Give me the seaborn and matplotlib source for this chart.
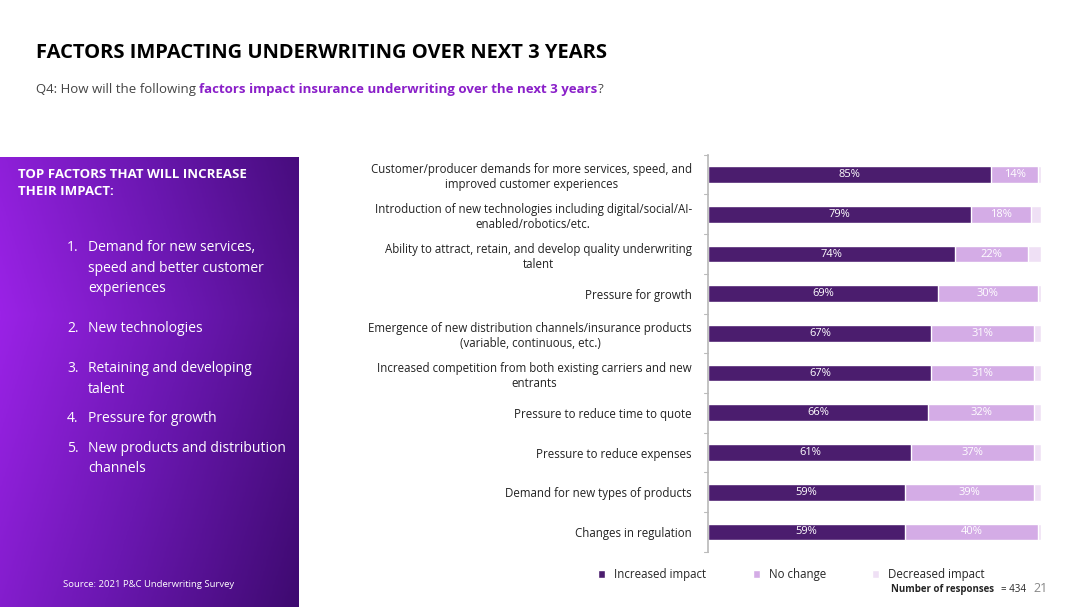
import numpy as np
import pandas as pd
import seaborn as sns
import matplotlib.pyplot as plt
from matplotlib.colors import LinearSegmentedColormap

sns.set_theme(style="white")
plt.rcParams['font.family'] = ['Open Sans', 'DejaVu Sans']

factors = [
    "Customer/producer demands for more services, speed, and\nimproved customer experiences",
    "Introduction of new technologies including digital/social/AI-\nenabled/robotics/etc.",
    "Ability to attract, retain, and develop quality underwriting\ntalent",
    "Pressure for growth",
    "Emergence of new distribution channels/insurance products\n(variable, continuous, etc.)",
    "Increased competition from both existing carriers and new\nentrants",
    "Pressure to reduce time to quote",
    "Pressure to reduce expenses",
    "Demand for new types of products",
    "Changes in regulation",
]
increased = [85, 79, 74, 69, 67, 67, 66, 61, 59, 59]
no_change = [14, 18, 22, 30, 31, 31, 32, 37, 39, 40]
decreased = [1, 3, 4, 1, 2, 2, 2, 2, 2, 1]
series = ["Increased impact", "No change", "Decreased impact"]
colors = ["#4d0f7c", "#d8a2f0", "#f1ddf8"]

df = pd.DataFrame({"factor": factors, "inc": increased, "nc": no_change, "dec": decreased})

fig = plt.figure(figsize=(10.8, 6.07), dpi=100)

# title and question
fig.text(0.033, 0.905, "FACTORS IMPACTING UNDERWRITING OVER NEXT 3 YEARS", fontsize=14.5,
         fontweight="bold", color="black")
parts = [("Q4: How will the following ", "#444444", "normal"),
         ("factors impact insurance underwriting over the next 3 years", "#8a1fc9", "bold"),
         ("?", "#444444", "normal")]
fig.canvas.draw()
r = fig.canvas.get_renderer()
x = 0.033
for s, c, w in parts:
    t = fig.text(x, 0.846, s, fontsize=9.5, color=c, fontweight=w)
    x += t.get_window_extent(r).width / fig.bbox.width

# gradient side panel
pax = fig.add_axes([0, 0, 0.276, 0.741])
cmap = LinearSegmentedColormap.from_list("p", ["#9a22e6", "#6a17b0", "#3e0a70"])
yy, xx = np.mgrid[0:1:200j, 0:1:200j]
grad = 0.75 * xx + 0.35 * np.abs(yy - 0.65)
pax.imshow(grad, cmap=cmap, aspect="auto", extent=[0, 1, 0, 1], origin="lower")
pax.axis("off")
pax.text(0.06, 0.975, "TOP FACTORS THAT WILL INCREASE\nTHEIR IMPACT:", color="white", fontsize=9.5,
         fontweight="bold", va="top", linespacing=1.4)
items = [("1.", "Demand for new services,\nspeed and better customer\nexperiences", 0.815),
         ("2.", "New technologies", 0.635),
         ("3.", "Retaining and developing\ntalent", 0.546),
         ("4.", "Pressure for growth", 0.435),
         ("5.", "New products and distribution\nchannels", 0.37)]
for n, t, y in items:
    pax.text(0.225, y, n, color="white", fontsize=10, va="top")
    pax.text(0.295, y, t, color="white", fontsize=10, va="top", linespacing=1.5)
pax.text(0.5, 0.045, "Source: 2021 P&C Underwriting Survey", color="white", fontsize=6.8, ha="center")

# bar chart
ax = fig.add_axes([0.656, 0.091, 0.308, 0.654])
sns.barplot(data=df, y="factor", x=[i + n + d for i, n, d in zip(increased, no_change, decreased)],
            color=colors[2], width=0.42, ax=ax, label=series[2])
sns.barplot(data=df, y="factor", x=[i + n for i, n in zip(increased, no_change)],
            color=colors[1], width=0.42, ax=ax, label=series[1])
sns.barplot(data=df, y="factor", x="inc", color=colors[0], width=0.42, ax=ax, label=series[0])
for k in range(len(factors)):
    ax.text(increased[k] / 2, k, f"{increased[k]}%", color="white", fontsize=8, ha="center", va="center")
    ax.text(increased[k] + no_change[k] / 2, k, f"{no_change[k]}%", color="white", fontsize=8,
            ha="center", va="center")
ax.set_xlim(0, 100)
ax.set_xlabel("")
ax.set_ylabel("")
ax.set_xticks([])
ax.tick_params(axis="y", labelsize=8.3, length=0, pad=12, colors="#222222")
for lab in ax.get_yticklabels():
    lab.set_horizontalalignment("right")
    lab.set_multialignment("center")
sns.despine(ax=ax, left=False, bottom=True)
ax.spines["left"].set_color("#bbbbbb")
for k in range(len(factors) + 1):
    ax.plot([-1.2, 0], [k - 0.5, k - 0.5], color="#bbbbbb", lw=0.8, clip_on=False)
ax.set_ylim(len(factors) - 0.5, -0.5)
h, l = ax.get_legend_handles_labels()
ax.legend(h[::-1], l[::-1], loc="upper center", bbox_to_anchor=(0.25, -0.015), ncol=3, frameon=False,
          fontsize=8.3, handlelength=0.6, handleheight=0.6, columnspacing=4)

fig.text(0.825, 0.025, "Number of responses", fontsize=7, fontweight="bold")
fig.text(0.927, 0.025, "= 434", fontsize=7)
fig.text(0.957, 0.025, "21", fontsize=9, color="#888888")

fig.savefig("out.png", dpi=100)
